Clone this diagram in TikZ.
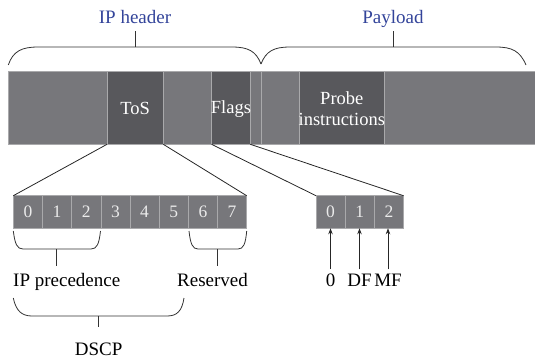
\documentclass[tikz,border=0pt]{standalone}
\usepackage{fontspec}
\setmainfont{Liberation Serif}
\usetikzlibrary{arrows.meta}
\definecolor{segLight}{HTML}{77777B}
\definecolor{segDark}{HTML}{58585C}
\definecolor{segRule}{HTML}{A9A9AB}
\definecolor{capBlue}{HTML}{33449A}
\begin{document}
\begin{tikzpicture}[x=1pt,y=-1pt,
  seg/.style={draw=segRule, line width=0.6pt, minimum height=73.3pt, inner sep=0pt, outer sep=0pt, anchor=north west},
  light/.style={seg, fill=segLight},
  dark/.style={seg, fill=segDark},
  seglab/.style={text=white, font=\fontsize{18.5}{21.5}\selectfont, inner sep=0pt, align=center},
  cell/.style={draw=segRule, fill=segLight, line width=0.6pt, minimum width=29.17pt, minimum height=32.6pt, inner sep=0pt, outer sep=0pt, anchor=north west, text=white!92!black, font=\fontsize{17.5}{20}\selectfont},
  conn/.style={line width=0.8pt, draw=black!85},
  brace/.style={line width=0.8pt, draw=black!80},
  lab/.style={font=\fontsize{19}{22}\selectfont, inner sep=0pt},
  bluelab/.style={lab, text=capBlue},
  uparrow/.style={conn, -{Stealth[length=6pt,width=4.5pt]}},
]
\useasboundingbox (0,0) rectangle (535,360);

% packet bar
\node[light, minimum width=98.7pt] (s1) at (8.3,71) {};
\node[dark,  minimum width=56.3pt] (tos) at (s1.north east) {};
\node[light, minimum width=48.3pt] (s3) at (tos.north east) {};
\node[dark,  minimum width=38.7pt] (flags) at (s3.north east) {};
\node[light, minimum width=11pt]   (s5) at (flags.north east) {};
\node[light, minimum width=37.7pt] (s6) at (s5.north east) {};
\node[dark,  minimum width=85.6pt] (probe) at (s6.north east) {};
\node[light, minimum width=160pt]  (s8) at (probe.north east) {};

\node[seglab] (tostxt) at ([yshift=-1pt]tos.center) {ToS};
\node[seglab] (flagstxt) at ([yshift=-1pt]flags.center) {Flags};
\node[seglab] (probetxt) at ([yshift=-1pt]probe.center) {Probe\\instructions};

% braces over the bar
\draw[brace] (8.3,65) .. controls (13,51) and (22,47) .. (38,47) -- (232,47)
  .. controls (248,47) and (256,51) .. (261,64);
\draw[brace] (261,64) .. controls (266,51) and (274,47) .. (290,47) -- (496,47)
  .. controls (512,47) and (520,51) .. (526,65);
\node[bluelab, anchor=base] (iph) at (135,23) {IP header};
\node[bluelab, anchor=base] (pay) at (393,23) {Payload};
\draw[brace] (135,47) -- (135,31);
\draw[brace] (393,47) -- (393,31);

% ToS bits
\node[cell] (b0) at (13.3,195.7) {0};
\node[cell] (b1) at (b0.north east) {1};
\node[cell] (b2) at (b1.north east) {2};
\node[cell] (b3) at (b2.north east) {3};
\node[cell] (b4) at (b3.north east) {4};
\node[cell] (b5) at (b4.north east) {5};
\node[cell] (b6) at (b5.north east) {6};
\node[cell] (b7) at (b6.north east) {7};

% Flags bits
\node[cell] (f0) at (316,195.7) {0};
\node[cell] (f1) at (f0.north east) {1};
\node[cell] (f2) at (f1.north east) {2};

% expansion lines
\draw[conn] (tos.south west) -- (b0.north west);
\draw[conn] (tos.south east) -- (b7.north east);
\draw[conn] (flags.south west) -- (f0.north west);
\draw[conn] (flags.south east) -- (f2.north east);

% braces under the ToS bits
\draw[brace] (13.3,231) .. controls (15,244) and (17,249) .. (23,249) -- (91,249)
  .. controls (97,249) and (99,244) .. (100.5,231);
\draw[brace] (56,249) -- (56,266);
\node[lab, anchor=base west] (prec) at (13,286) {IP precedence};

\draw[brace] (189,231) .. controls (190.5,244) and (192.5,249) .. (198,249) -- (238,249)
  .. controls (243.5,249) and (245.5,244) .. (246.7,231);
\draw[brace] (217.3,249) -- (217.3,266);
\node[lab, anchor=base] (resv) at (212.5,286) {Reserved};

\draw[brace] (13.3,298) .. controls (16,311) and (22,316) .. (32,316) -- (167,316)
  .. controls (177,316) and (182,311) .. (184,298);
\draw[brace] (98.7,316) -- (98.7,327);
\node[lab, anchor=base] (dscp) at (98.7,355) {DSCP};

% flag names
\node[lab, anchor=base] (l0) at (330.5,286) {0};
\node[lab, anchor=base] (l1) at (359.5,286) {DF};
\node[lab, anchor=base] (l2) at (388,286) {MF};
\draw[uparrow] ([yshift=4pt]l0.north) -- (l0.north |- f0.south);
\draw[uparrow] ([yshift=4pt]l1.north) -- (l1.north |- f1.south);
\draw[uparrow] ([yshift=4pt]l2.north) -- (l2.north |- f2.south);
\end{tikzpicture}
\end{document}
